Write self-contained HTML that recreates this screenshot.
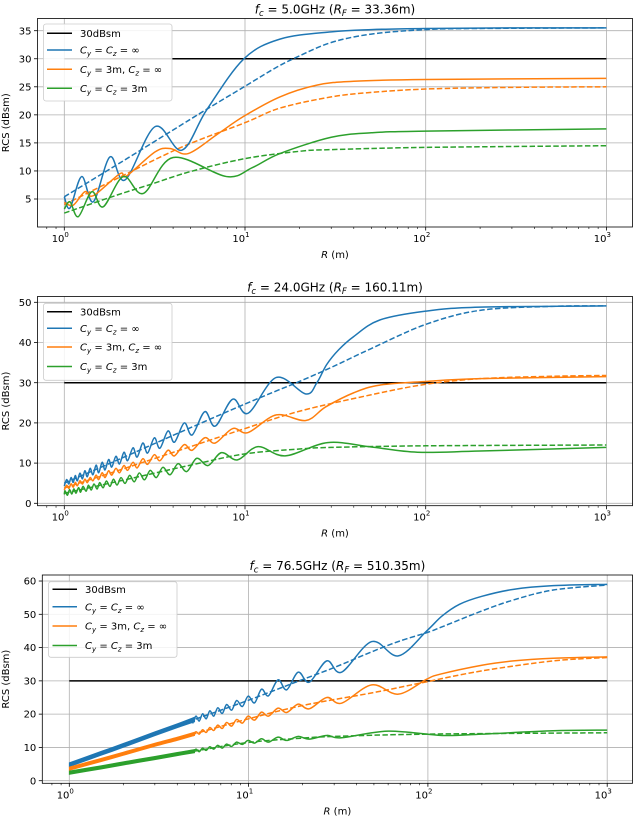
<!DOCTYPE html>
<html><head><meta charset="utf-8"><style>
html,body{margin:0;padding:0;background:#fff;}
svg{display:block;font-family:"DejaVu Sans","Liberation Sans",sans-serif;}
</style></head><body>
<svg id="fig" width="634" height="820" viewBox="0 0 634 820" xmlns="http://www.w3.org/2000/svg"></svg>
<script>
// ---------- Panel 1 data (fc = 5.0 GHz) ----------
const p1BlueSolidR=[1.0,1.075,1.248,1.447,1.79,2.17,3.18,4.47,6.14,9.8,15.6,30,50,100,300,1000];
const p1BlueSolidV=[5.4,3.4,9.0,4.5,12.5,8.4,17.9,13.7,20.9,29.9,33.5,34.8,35.2,35.4,35.5,35.5];
const p1BlueDashR=[1,2,4,6,10,15,20,30,50,100,200,1000];
const p1BlueDashV=[5.4,11.3,17.3,20.8,25.1,28.5,30.5,32.9,34.4,35.2,35.4,35.5];
const p1OrangeSolidR=[1,1.12,1.30,1.45,2.03,2.21,3.18,3.85,4.85,7,9.8,15.6,25,40,100,1000];
const p1OrangeSolidV=[4.4,3.9,6.3,5.6,9.5,9.1,13.4,14.0,13.1,16.5,19.7,23.2,25.3,26.0,26.3,26.5];
const p1OrangeDashR=[1,2,4.5,10,15.6,30,50,100,300,1000];
const p1OrangeDashV=[4.0,8.8,14.3,18.6,21.2,23.2,24.0,24.6,24.9,25.0];
const p1GreenSolidR=[1,1.075,1.195,1.42,1.64,2.12,2.74,4.0,7.9,11,15.6,30,50,100,1000];
const p1GreenSolidV=[3.2,4.5,1.85,6.3,3.6,9.0,6.0,12.4,9.0,10.6,13.1,16.0,16.8,17.1,17.5];
const p1GreenDashR=[1,2,3,5,10,20,30,100,1000];
const p1GreenDashV=[2.5,5.8,7.6,9.9,12.2,13.5,13.8,14.2,14.5];
const p1YTicks=[5,10,15,20,25,30,35];

// ---------- Panel 2 data (fc = 24.0 GHz) ----------
const p2ExtR=[1.00,1.03,1.06,1.09,1.12,1.15,1.18,1.22,1.26,1.30,1.34,1.39,1.44,1.50,1.55,1.62,1.68,1.76,1.83,1.93,2.02,2.14,2.24,2.40,2.53,2.72,2.89,3.15,3.38,3.75,4.07,4.61,5.10,5.99,6.85,8.55,10.4,14.9,21.7];
const p2BlueSolidR=p2ExtR.concat([25,28.3,33,40,55.7,100,200,1000]);
const p2BlueSolidV=[4.3,5.9,4.8,6.4,5.2,6.9,5.6,7.5,6.1,8.1,6.6,8.7,7.1,9.5,7.6,10.2,8.3,10.9,9.0,11.7,9.8,12.7,10.6,13.8,11.5,15.0,12.5,16.3,13.7,18.0,15.2,20.0,17.0,22.8,19.2,25.9,22.4,31.3,27.2,30.0,34.5,38.2,41.5,45.6,47.8,48.8,49.1];
const p2BlueDashR=[1,2,4.6,10,15,20,30,50,100,200,500,1000];
const p2BlueDashV=[5.0,10.9,18.1,24.7,28.0,30.3,33.8,38.5,44.5,48.0,49.0,49.1];
const p2OrangeSolidR=p2ExtR.concat([28,40,55.7,100,200,1000]);
const p2OrangeSolidV=[3.3,4.5,3.7,4.85,4.0,5.2,4.35,5.6,4.8,6.0,5.15,6.4,5.6,7.0,5.9,7.6,6.4,8.1,7.0,8.7,7.6,9.4,8.2,10.2,8.8,11.1,9.7,12.1,10.6,13.2,11.8,14.6,13.2,16.3,15.0,18.6,17.6,22.0,20.6,24.0,27.5,29.4,30.3,31.0,31.5];
const p2OrangeDashR=[1,2,5,10,20,50,100,200,500,1000];
const p2OrangeDashV=[3.8,8.2,14.1,18.6,22.9,27.0,29.6,31.0,31.6,31.8];
const p2GreenSolidR=[1.00,1.01,1.04,1.07,1.10,1.13,1.16,1.20,1.23,1.27,1.32,1.36,1.41,1.46,1.52,1.57,1.64,1.71,1.79,1.87,1.96,2.06,2.17,2.30,2.44,2.60,2.78,2.99,3.23,3.51,3.85,4.26,4.76,5.41,6.25,7.41,9.09,11.8,16.7,28.6,50,90,200,1000];
const p2GreenSolidV=[2.2,3.1,2.0,3.4,2.3,3.6,2.5,3.9,2.75,4.2,3.0,4.5,3.3,4.8,3.55,5.15,3.85,5.55,4.2,6.0,4.55,6.4,4.95,6.95,5.35,7.55,5.85,8.2,6.4,8.95,7.1,9.85,7.9,11.2,9.4,12.6,10.8,14.1,11.8,15.1,14.0,12.7,13.0,13.9];
const p2GreenDashR=[1,2,5,10,20,30,100,1000];
const p2GreenDashV=[2.5,5.5,9.5,12.3,13.5,13.9,14.3,14.5];
const p2YTicks=[0,10,20,30,40,50];

// ---------- Panel 3 data (fc = 76.5 GHz) ----------
const p3BandR=[1,1.5,2,3,4,5];
const p3BlueBandUpper=[5.4,8.8,11.2,14.7,17.1,19.1];
const p3BlueBandLower=[4.2,7.6,10.0,13.5,15.9,17.7];
const p3OrangeBandUpper=[4.1,6.7,8.6,11.3,13.1,14.6];
const p3OrangeBandLower=[3.1,5.7,7.6,10.3,12.1,13.6];
const p3GreenBandUpper=[2.9,4.5,5.7,7.3,8.5,9.4];
const p3GreenBandLower=[1.9,3.5,4.7,6.3,7.5,8.4];
const p3ExtR=[4.87,5.09,5.30,5.54,5.80,6.08,6.39,6.73,7.13,7.54,8.04,8.58,9.23,9.94,10.8,11.8,12.9,14.6,16.3,18.9,21.8,27.3,33.0,48.6,68.4];
const p3BlueSolidR=p3ExtR.concat([98.5,120,150,200,300,500,1000]);
const p3BlueSolidV=[17.2,19.4,17.9,20.1,18.6,21.0,19.4,21.9,20.2,22.9,21.2,24.1,22.3,25.4,23.4,27.5,25.5,30.3,27.3,32.6,29.6,36.0,32.6,41.8,37.5,45.0,49.5,53.0,55.4,57.5,58.6,59.0];
const p3BlueDashR=[1,2,3,5,10,20,30,50,70,100,117,200,300,500,1000];
const p3BlueDashV=[4.8,10.6,14.1,18.4,24.2,30.4,34.0,39.0,42.0,44.6,46.0,51.0,54.3,57.3,58.8];
const p3OrangeSolidR=p3ExtR.concat([98.5,117,200,300,500,1000]);
const p3OrangeSolidV=[13.4,14.7,14.0,15.3,14.5,16.0,15.1,16.7,15.7,17.5,16.4,18.4,17.3,19.4,18.2,20.6,19.4,21.8,20.5,23.0,21.6,25.0,23.3,28.8,26.0,30.5,32.0,34.7,36.0,36.8,37.2];
const p3OrangeDashR=[1,2,5,10,20,50,100,200,500,1000];
const p3OrangeDashV=[3.6,8.1,14.1,18.6,22.6,26.5,29.8,33.0,36.0,37.0];
const p3GreenSolidR=[4.87,5.09,5.30,5.54,5.80,6.08,6.39,6.73,7.13,7.54,8.04,8.58,9.23,9.94,10.8,11.8,12.9,14.6,16.3,18.9,21.8,27.3,33.0,60,120,200,500,1000];
const p3GreenSolidV=[8.4,9.5,8.7,9.8,9.1,10.2,9.5,10.6,9.8,11.0,10.3,11.6,10.9,12.1,11.3,12.6,11.6,13.1,12.1,13.3,12.5,13.6,12.9,14.9,13.6,14.0,15.0,15.2];
const p3GreenDashR=[1,2,5,10,20,30,100,1000];
const p3GreenDashV=[2.4,5.2,8.9,11.5,12.8,13.3,14.0,14.4];
const p3YTicks=[0,10,20,30,40,50,60];

const xDecades=[0,1,2,3];
const refLevel=[30];

const BLUE='#1f77b4',ORANGE='#ff7f0e',GREEN='#2ca02c';
const svg=document.getElementById('fig');
const NS='http://www.w3.org/2000/svg';
function mk(tag,attrs,parent){const e=document.createElementNS(NS,tag);for(const k in attrs)e.setAttribute(k,attrs[k]);(parent||svg).appendChild(e);return e;}
function smoothPath(px,py){
  let d='M'+px[0].toFixed(2)+','+py[0].toFixed(2);
  for(let i=0;i<px.length-1;i++){
    const x0=px[Math.max(i-1,0)],y0=py[Math.max(i-1,0)],x1=px[i],y1=py[i],x2=px[i+1],y2=py[i+1];
    const x3=px[Math.min(i+2,px.length-1)],y3=py[Math.min(i+2,px.length-1)];
    const c1x=x1+(x2-x0)/6,c1y=y1+(y2-y0)/6,c2x=x2-(x3-x1)/6,c2y=y2-(y3-y1)/6;
    d+=' C'+c1x.toFixed(2)+','+c1y.toFixed(2)+' '+c2x.toFixed(2)+','+c2y.toFixed(2)+' '+x2.toFixed(2)+','+y2.toFixed(2);
  }
  return d;
}
function panel(cfg){
  const g=mk('g',{});
  
  
  const X=r=>cfg.x0+cfg.dec*Math.log10(r);
  const Y=v=>cfg.yb-cfg.sy*v;
  const L=cfg.left,R=cfg.right,T=cfg.top,B=cfg.bottom;
  xDecades.forEach(k=>{const gl=mk('line',{x1:X(Math.pow(10,k)),x2:X(Math.pow(10,k)),y1:T,y2:B,stroke:'#b0b0b0','stroke-width':0.8},g);});
  cfg.yticks.forEach(v=>{const gl=mk('line',{x1:L,x2:R,y1:Y(v),y2:Y(v),stroke:'#b0b0b0','stroke-width':0.8},g);});
  const cid='clip'+cfg.id;
  const cp=mk('clipPath',{id:cid},g);mk('rect',{x:L,y:T,width:R-L,height:B-T},cp);
  const plot=mk('g',{'clip-path':'url(#'+cid+')'},g);
  (cfg.bands||[]).forEach(b=>{
    const xs=b.r.map(X),up=b.up.map(Y),lo=b.lo.map(Y);
    let d=smoothPath(xs,up);
    const rx=xs.slice().reverse(),rl=lo.slice().reverse();
    d+=' L'+rx[0].toFixed(2)+','+rl[0].toFixed(2)+smoothPath(rx,rl).replace(/^M[^C]*/,' ')+' Z';
    const p=mk('path',{d:d,fill:b.c,stroke:b.c,'stroke-width':0.8},plot);
    
    
  });
  const ref=mk('line',{x1:X(1),x2:X(1000),y1:Y(refLevel[0]),y2:Y(refLevel[0]),stroke:'#000','stroke-width':1.5},plot);
  
  
  cfg.series.forEach(s=>{
    const p=mk('path',{d:smoothPath(s.r.map(X),s.v.map(Y)),fill:'none',stroke:s.c,'stroke-width':1.5,'stroke-dasharray':s.dash?'5.5,2.4':'none','stroke-linejoin':'round'},plot);
    
    
  });
  const fr=mk('rect',{x:L,y:T,width:R-L,height:B-T,fill:'none',stroke:'#000','stroke-width':0.8},g);
  
  
  for(let k=-1;k<=3;k++){for(let m=1;m<10;m++){const r=Math.pow(10,k)*m;const x=X(r);if(x<L||x>R)continue;
    mk('line',{x1:x,x2:x,y1:B,y2:B+(m===1?3.5:2),stroke:'#000','stroke-width':m===1?0.8:0.6},g);}}
  xDecades.forEach(k=>{
    const t=mk('text',{x:X(Math.pow(10,k))-4,y:B+15,'font-size':10,'text-anchor':'middle',fill:'#000'},g);
    
    
    t.textContent='10';
    const s=mk('tspan',{'font-size':7,dy:-5},t);s.textContent=String(k);
  });
  cfg.yticks.forEach(v=>{
    mk('line',{x1:L-3.5,x2:L,y1:Y(v),y2:Y(v),stroke:'#000','stroke-width':0.8},g);
    const t=mk('text',{x:L-6,y:Y(v)+3.6,'font-size':10,'text-anchor':'end',fill:'#000'},g);
    
    
    t.textContent=String(v);
  });
  const xl=mk('text',{x:(L+R)/2,y:B+31,'font-size':10,'text-anchor':'middle'},g);
  
  
  const xi=mk('tspan',{'font-style':'italic'},xl);xi.textContent='R';
  const xr=mk('tspan',{},xl);xr.textContent=' (m)';
  const yl=mk('text',{x:0,y:0,'font-size':10,'text-anchor':'middle',transform:'translate('+(cfg.ylabX)+','+((T+B)/2)+') rotate(-90)'},g);
  
  
  yl.textContent='RCS (dBsm)';
  const ti=mk('text',{x:(L+R)/2,y:T-5,'font-size':12,'text-anchor':'middle'},g);
  
  
  const a=mk('tspan',{'font-style':'italic'},ti);a.textContent='f';
  const b=mk('tspan',{'font-size':8.5,dy:2.5,'font-style':'italic'},ti);b.textContent='c';
  const c=mk('tspan',{dy:-2.5},ti);c.textContent=' = '+cfg.fc+' (';
  const d=mk('tspan',{'font-style':'italic'},ti);d.textContent='R';
  const e=mk('tspan',{'font-size':8.5,dy:2.5,'font-style':'italic'},ti);e.textContent='F';
  const f=mk('tspan',{dy:-2.5},ti);f.textContent=' = '+cfg.rf+')';
  const lg=cfg.leg;
  const lgG=mk('g',{},g);
  
  
  mk('rect',{x:lg.x,y:lg.y,width:lg.w,height:lg.h,rx:2.5,fill:'#fff','fill-opacity':0.85,stroke:'#cccccc','stroke-width':0.8},lgG);
  const ents=[['#000',null],[BLUE,['C','y',' = ','C','z',' = ∞']],[ORANGE,['C','y',' = 3m, ','C','z',' = ∞']],[GREEN,['C','y',' = ','C','z',' = 3m']]];
  ents.forEach((en,i)=>{
    const yy=lg.rows[i];
    const eg=mk('g',{},lgG);
    
    
    mk('line',{x1:lg.lx1,x2:lg.lx2,y1:yy,y2:yy,stroke:en[0],'stroke-width':1.5},eg);
    const t=mk('text',{x:lg.tx,y:yy+3.6,'font-size':10},eg);
    if(!en[1]){t.textContent='30dBsm';return;}
    const p=en[1];
    const s1=mk('tspan',{'font-style':'italic'},t);s1.textContent=p[0];
    const s2=mk('tspan',{'font-style':'italic','font-size':7,dy:2.5},t);s2.textContent=p[1];
    const s3=mk('tspan',{dy:-2.5},t);s3.textContent=p[2];
    const s4=mk('tspan',{'font-style':'italic'},t);s4.textContent=p[3];
    const s5=mk('tspan',{'font-style':'italic','font-size':7,dy:2.5},t);s5.textContent=p[4];
    const s6=mk('tspan',{dy:-2.5},t);s6.textContent=p[5];
  });
}
panel({id:1,name:'panel-5ghz',fc:'5.0GHz',rf:'33.36m',x0:64.3,dec:180.7,yb:227.05,sy:5.61,left:37.5,right:632.5,top:18.5,bottom:227,ylabX:9,yticks:p1YTicks,
  leg:{x:43.5,y:24,w:128.5,h:77,rows:[33.3,50,69.3,88.3],lx1:47,lx2:72,tx:80},
  series:[
    {name:'blue-dashed',r:p1BlueDashR,v:p1BlueDashV,c:BLUE,dash:1},
    {name:'orange-dashed',r:p1OrangeDashR,v:p1OrangeDashV,c:ORANGE,dash:1},
    {name:'green-dashed',r:p1GreenDashR,v:p1GreenDashV,c:GREEN,dash:1},
    {name:'blue-solid',r:p1BlueSolidR,v:p1BlueSolidV,c:BLUE},
    {name:'orange-solid',r:p1OrangeSolidR,v:p1OrangeSolidV,c:ORANGE},
    {name:'green-solid',r:p1GreenSolidR,v:p1GreenSolidV,c:GREEN}]});
panel({id:2,name:'panel-24ghz',fc:'24.0GHz',rf:'160.11m',x0:64.3,dec:180.7,yb:503.3,sy:4.02,left:37.5,right:632.5,top:296.5,bottom:505.7,ylabX:9,yticks:p2YTicks,
  leg:{x:43.5,y:303.3,w:128.5,h:77,rows:[311.7,328.3,347,366.5],lx1:47,lx2:72,tx:80},
  series:[
    {name:'blue-dashed',r:p2BlueDashR,v:p2BlueDashV,c:BLUE,dash:1},
    {name:'orange-dashed',r:p2OrangeDashR,v:p2OrangeDashV,c:ORANGE,dash:1},
    {name:'green-dashed',r:p2GreenDashR,v:p2GreenDashV,c:GREEN,dash:1},
    {name:'blue-solid',r:p2BlueSolidR,v:p2BlueSolidV,c:BLUE},
    {name:'orange-solid',r:p2OrangeSolidR,v:p2OrangeSolidV,c:ORANGE},
    {name:'green-solid',r:p2GreenSolidR,v:p2GreenSolidV,c:GREEN}]});
panel({id:3,name:'panel-76ghz',fc:'76.5GHz',rf:'510.35m',x0:69.3,dec:179.3,yb:780.7,sy:3.328,left:42.3,right:632.5,top:575,bottom:783.3,ylabX:9,yticks:p3YTicks,
  leg:{x:48.5,y:581.7,w:128.5,h:75.6,rows:[589.3,606.7,626,645.5],lx1:52.5,lx2:77,tx:85},
  bands:[
    {name:'blue-solid-band',r:p3BandR,up:p3BlueBandUpper,lo:p3BlueBandLower,c:BLUE},
    {name:'orange-solid-band',r:p3BandR,up:p3OrangeBandUpper,lo:p3OrangeBandLower,c:ORANGE},
    {name:'green-solid-band',r:p3BandR,up:p3GreenBandUpper,lo:p3GreenBandLower,c:GREEN}],
  series:[
    {name:'blue-dashed',r:p3BlueDashR,v:p3BlueDashV,c:BLUE,dash:1},
    {name:'orange-dashed',r:p3OrangeDashR,v:p3OrangeDashV,c:ORANGE,dash:1},
    {name:'green-dashed',r:p3GreenDashR,v:p3GreenDashV,c:GREEN,dash:1},
    {name:'blue-solid',r:p3BlueSolidR,v:p3BlueSolidV,c:BLUE},
    {name:'orange-solid',r:p3OrangeSolidR,v:p3OrangeSolidV,c:ORANGE},
    {name:'green-solid',r:p3GreenSolidR,v:p3GreenSolidV,c:GREEN}]});
</script>
</body></html>
